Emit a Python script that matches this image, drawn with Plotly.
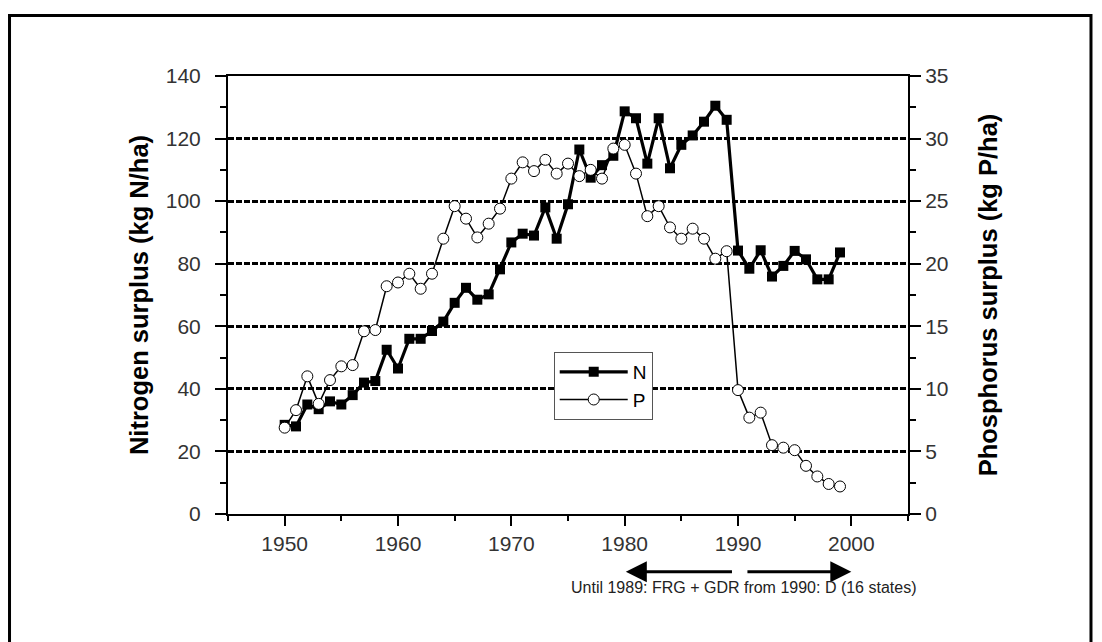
import plotly.graph_objects as go

years = list(range(1950, 2000))
n_surplus = [28.5, 28, 35, 33.5, 36, 35, 38, 42, 42.5, 52.5,
             46.5, 56, 56, 58.5, 61.5, 67.5, 72.3, 68.5, 70.2, 78.2,
             86.8, 89.6, 89, 98, 88, 99, 116.5, 107.5, 111.5, 114.5,
             128.7, 126.5, 112, 126.5, 110.5, 118, 121, 125.4, 130.5, 126,
             84.2, 78.4, 84.3, 75.9, 79.3, 84.1, 81.4, 75, 75, 83.6]
p_surplus = [6.9, 8.3, 11.0, 8.8, 10.7, 11.8, 11.9, 14.6, 14.7, 18.2,
             18.5, 19.2, 18.0, 19.2, 22.0, 24.6, 23.6, 22.1, 23.2, 24.4,
             26.8, 28.1, 27.4, 28.3, 27.2, 28.0, 27.0, 27.5, 26.8, 29.2,
             29.5, 27.2, 23.8, 24.6, 22.9, 22.0, 22.8, 22.0, 20.4, 21.0,
             9.9, 7.7, 8.1, 5.5, 5.3, 5.1, 3.85, 3.0, 2.4, 2.2]

x_ticks = [1950, 1960, 1970, 1980, 1990, 2000]
left_ticks = [0, 20, 40, 60, 80, 100, 120, 140]
right_ticks = [0, 5, 10, 15, 20, 25, 30, 35]

FONT = "Liberation Sans, Arial, sans-serif"

fig = go.Figure()
fig.add_trace(go.Scatter(
    x=years, y=n_surplus, name="N", mode="lines+markers",
    line=dict(color="black", width=3.2),
    marker=dict(symbol="square", size=10, color="black"),
    yaxis="y"))
fig.add_trace(go.Scatter(
    x=years, y=p_surplus, name="P", mode="lines+markers",
    line=dict(color="black", width=1.5),
    marker=dict(symbol="circle", size=11, color="white",
                line=dict(color="black", width=1)),
    yaxis="y2"))

fig.update_layout(
    width=1102, height=642,
    margin=dict(l=220, r=202, t=68, b=136),
    paper_bgcolor="white", plot_bgcolor="white",
    font=dict(family=FONT, color="#222"),
    showlegend=True,
    legend=dict(x=0.479, y=0.37, xanchor="left", yanchor="top",
                bgcolor="white", bordercolor="#555", borderwidth=1,
                font=dict(size=19, color="black", family=FONT),
                itemwidth=68, tracegroupgap=0),
    xaxis=dict(range=[1945, 2005], tickvals=x_ticks,
               ticks="outside", ticklen=10, tickwidth=2, tickcolor="black",
               minor=dict(dtick=5, tick0=1945, ticks="outside", ticklen=5,
                          tickwidth=2, tickcolor="black"),
               showline=True, linecolor="black", linewidth=2, mirror=True,
               showgrid=False, zeroline=False,
               tickfont=dict(size=21, color="#333")),
    yaxis=dict(range=[0, 140], tickvals=left_ticks,
               ticks="outside", ticklen=11, tickwidth=2, tickcolor="black",
               ticklabelstandoff=10,
               minor=dict(dtick=10, ticks="outside", ticklen=6,
                          tickwidth=2, tickcolor="black", showgrid=False),
               showline=True, linecolor="black", linewidth=2,
               showgrid=True, gridcolor="black", gridwidth=2.5,
               griddash="6px,2px", zeroline=False,
               tickfont=dict(size=21, color="#333"),
               title=dict(text="<b>Nitrogen surplus (kg N/ha)</b>",
                          font=dict(size=25.5, color="black"), standoff=10)),
    yaxis2=dict(range=[0, 35], tickvals=right_ticks, overlaying="y",
                side="right",
                ticks="outside", ticklen=11, tickwidth=2, tickcolor="black",
                minor=dict(dtick=2.5, ticks="outside", ticklen=6,
                           tickwidth=2, tickcolor="black"),
                showline=True, linecolor="black", linewidth=2,
                showgrid=False, zeroline=False,
                tickfont=dict(size=21, color="#333"),
                title=dict(text="<b>Phosphorus surplus (kg P/ha)</b>",
                           font=dict(size=25.5, color="black"), standoff=32)),
)

# Arrows below the x axis
arrow_y = -0.132
fig.add_annotation(x=1980.1, y=arrow_y, xref="x", yref="paper",
                   ax=1989.6, ay=0, axref="x", ayref="pixel",
                   text="", showarrow=True, arrowhead=2, arrowsize=1.4,
                   arrowwidth=3, arrowcolor="black")
fig.add_annotation(x=2000.0, y=arrow_y, xref="x", yref="paper",
                   ax=1990.7, ay=0, axref="x", ayref="pixel",
                   text="", showarrow=True, arrowhead=2, arrowsize=1.4,
                   arrowwidth=3, arrowcolor="black")
fig.add_annotation(x=1990.5, y=-0.168, xref="x", yref="paper",
                   text="Until 1989: FRG + GDR from 1990: D (16 states)",
                   showarrow=False, xanchor="center", yanchor="middle",
                   font=dict(size=16, color="#222", family=FONT))

# Outer frame
fig.add_shape(type="path", xref="paper", yref="paper",
              path="M -0.3213,-0.33 L -0.3213,1.138 L 1.2691,1.138 L 1.2691,-0.33",
              line=dict(color="black", width=3))

fig.write_html("out.html")
